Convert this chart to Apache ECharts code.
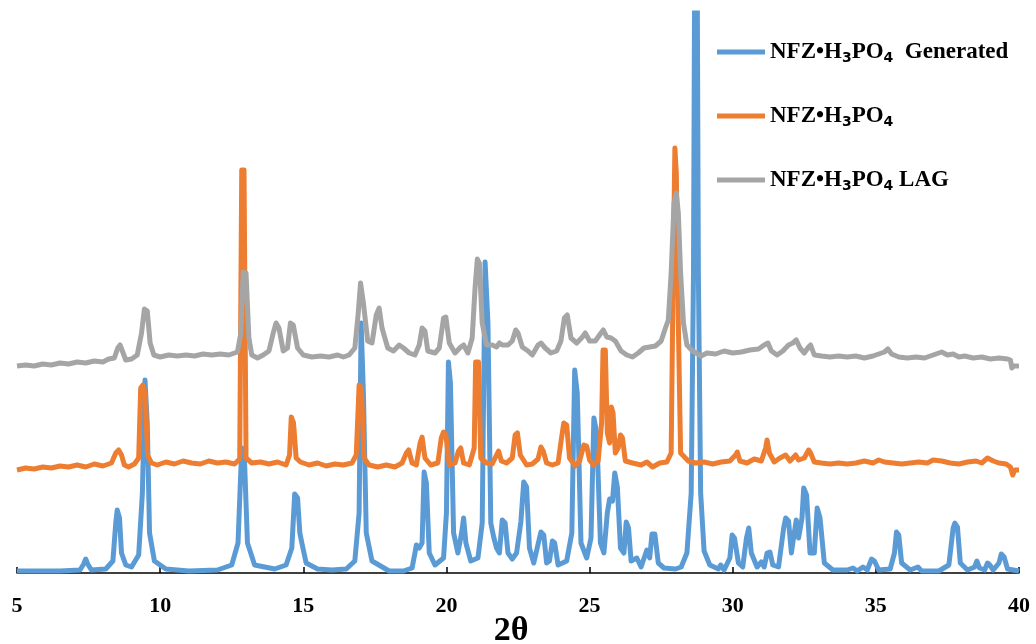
<!DOCTYPE html>
<html>
<head>
<meta charset="utf-8">
<script src="https://cdn.jsdelivr.net/npm/echarts@6/dist/echarts.min.js"></script>
<style>
  html, body { margin: 0; padding: 0; background: #fff; }
  #chart { width: 1036px; height: 644px; }
</style>
</head>
<body>
<div id="chart"></div>
<script>
// PXRD patterns, [2θ, intensity] — traces offset vertically as in the original figure
const seriesNames = ["NFZ•H₃PO₄  Generated", "NFZ•H₃PO₄", "NFZ•H₃PO₄ LAG"];
const xTicks = [5, 10, 15, 20, 25, 30, 35, 40];

const generated = [
  [5.0,2],[6.5,2],[7.2,3],[7.33,9],[7.4,14],[7.47,9],[7.6,3],[8.1,4],[8.35,12],[8.45,50],[8.5,63],[8.58,55],[8.65,20],[8.8,8],
  [9.0,6],[9.25,18],[9.38,80],[9.47,193],[9.55,150],[9.63,40],[9.8,12],[10.2,4],[11.0,2],[12.0,3],[12.5,8],[12.72,30],[12.85,125],
  [12.95,110],[13.05,30],[13.3,8],[14.0,4],[14.4,8],[14.6,25],[14.7,79],[14.8,75],[14.88,40],[14.95,30],[15.1,10],[15.5,4],[16.0,3],
  [16.5,4],[16.8,12],[16.95,60],[17.02,250],[17.1,180],[17.2,40],[17.4,12],[18.0,2],[18.5,2],[18.8,5],[18.9,20],[18.95,28],[19.05,25],
  [19.15,30],[19.22,101],[19.3,90],[19.4,20],[19.6,8],[19.9,15],[20.0,60],[20.07,211],[20.14,190],[20.25,40],[20.4,20],[20.53,40],
  [20.6,55],[20.68,30],[20.85,12],[21.1,15],[21.25,50],[21.35,311],[21.45,250],[21.55,50],[21.65,36],[21.75,25],[21.85,20],[21.95,53],
  [22.05,50],[22.15,20],[22.3,14],[22.45,20],[22.6,51],[22.7,91],[22.8,86],[22.9,25],[23.05,10],[23.3,41],[23.4,38],[23.5,10],[23.6,12],
  [23.7,32],[23.78,30],[23.9,8],[24.2,12],[24.38,40],[24.48,203],[24.57,180],[24.7,30],[24.9,15],[25.05,35],[25.15,155],[25.25,140],
  [25.38,30],[25.5,20],[25.62,60],[25.7,74],[25.8,72],[25.88,100],[25.97,86],[26.08,25],[26.2,20],[26.28,51],[26.36,45],[26.45,12],
  [26.65,15],[26.8,6],[27.0,23],[27.1,15],[27.18,39],[27.28,39],[27.4,10],[27.6,5],[28.0,4],[28.2,6],[28.4,20],[28.55,80],[28.63,300],
  [28.67,600],[28.76,600],[28.8,300],[28.88,80],[29.0,22],[29.2,8],[29.5,4],[29.58,8],[29.7,3],[29.9,15],[29.98,38],[30.06,35],[30.2,10],
  [30.35,6],[30.48,35],[30.56,45],[30.65,20],[30.85,6],[31.0,11],[31.1,6],[31.2,20],[31.3,21],[31.4,8],[31.6,6],[31.78,45],[31.85,55],
  [31.95,52],[32.05,20],[32.15,40],[32.22,53],[32.3,35],[32.42,55],[32.48,85],[32.58,78],[32.7,20],[32.85,20],[32.95,65],[33.05,55],
  [33.2,10],[33.5,3],[34.0,3],[34.2,5],[34.35,2],[34.55,6],[34.7,3],[34.85,14],[34.95,12],[35.1,3],[35.5,4],[35.65,20],[35.72,41],
  [35.8,38],[35.9,10],[36.2,3],[36.47,6],[36.6,2],[37.2,2],[37.55,8],[37.7,45],[37.76,50],[37.85,46],[37.95,10],[38.2,3],[38.45,6],
  [38.53,12],[38.62,5],[38.8,3],[38.9,10],[38.98,8],[39.1,3],[39.3,10],[39.38,19],[39.48,16],[39.6,4],[40.0,2]
];

const experimental = [
  [5.0,103],[5.3,105],[5.6,104],[5.9,106],[6.2,105],[6.5,107],[6.8,106],[7.1,108],[7.4,106],[7.7,109],[8.0,107],[8.3,110],[8.45,120],
  [8.55,123],[8.65,118],[8.75,108],[8.9,106],[9.1,109],[9.25,115],[9.32,185],[9.4,188],[9.48,180],[9.56,118],[9.7,110],[9.9,108],
  [10.2,111],[10.5,109],[10.8,112],[11.1,110],[11.4,109],[11.7,112],[12.0,110],[12.3,111],[12.6,109],[12.78,114],[12.85,403],[12.93,403],
  [13.0,115],[13.2,110],[13.5,111],[13.8,109],[14.1,111],[14.4,108],[14.52,118],[14.58,156],[14.66,150],[14.75,115],[14.9,111],[15.2,108],
  [15.5,110],[15.8,107],[16.1,109],[16.4,108],[16.7,110],[16.85,118],[16.95,188],[17.03,185],[17.12,115],[17.3,108],[17.6,106],[17.9,108],
  [18.2,106],[18.45,110],[18.6,120],[18.68,123],[18.8,110],[18.95,108],[19.08,130],[19.15,136],[19.25,115],[19.45,108],[19.7,110],
  [19.82,135],[19.9,141],[19.98,138],[20.1,108],[20.3,110],[20.42,122],[20.5,125],[20.6,110],[20.8,108],[20.97,125],[21.02,211],
  [21.12,211],[21.2,115],[21.4,110],[21.6,109],[21.75,118],[21.82,122],[21.92,112],[22.1,110],[22.3,115],[22.4,138],[22.48,140],
  [22.58,118],[22.8,108],[23.0,109],[23.2,114],[23.3,126],[23.38,122],[23.5,110],[23.7,108],[23.9,110],[24.02,135],[24.1,150],[24.2,148],
  [24.3,115],[24.5,107],[24.65,112],[24.8,128],[24.9,127],[25.0,113],[25.15,108],[25.3,112],[25.42,150],[25.47,223],[25.55,223],
  [25.62,140],[25.7,130],[25.76,166],[25.82,160],[25.9,120],[26.0,125],[26.08,138],[26.15,135],[26.25,112],[26.5,110],[26.8,108],
  [27.0,111],[27.2,106],[27.45,110],[27.7,111],[27.85,120],[27.92,300],[27.98,425],[28.03,400],[28.1,250],[28.18,120],[28.45,112],
  [28.7,110],[29.0,111],[29.3,109],[29.6,111],[29.9,112],[30.1,118],[30.16,121],[30.25,112],[30.5,110],[30.75,114],[31.0,112],[31.15,125],
  [31.2,133],[31.28,120],[31.45,111],[31.65,115],[31.85,118],[32.0,112],[32.2,118],[32.3,113],[32.5,115],[32.65,123],[32.72,120],
  [32.85,111],[33.1,110],[33.4,109],[33.7,110],[34.0,109],[34.3,110],[34.6,112],[34.9,110],[35.1,113],[35.3,111],[35.6,110],[35.9,109],
  [36.2,110],[36.5,111],[36.8,110],[37.0,113],[37.3,112],[37.6,110],[37.9,109],[38.2,111],[38.5,112],[38.7,110],[38.9,115],[39.1,112],
  [39.3,110],[39.55,109],[39.7,106],[39.78,98],[39.85,103],[40.0,103]
];

const lag = [
  [5.0,207],[5.3,208],[5.6,207],[5.9,209],[6.2,208],[6.5,210],[6.8,209],[7.1,211],[7.4,210],[7.7,212],[8.0,211],[8.2,214],[8.4,215],
  [8.52,225],[8.6,228],[8.68,222],[8.8,213],[9.0,214],[9.2,218],[9.35,240],[9.45,264],[9.55,262],[9.65,230],[9.78,218],[10.0,216],
  [10.3,218],[10.6,217],[10.9,218],[11.2,217],[11.5,219],[11.8,218],[12.1,219],[12.4,218],[12.7,221],[12.82,240],[12.9,301],[13.0,300],
  [13.1,235],[13.2,218],[13.4,215],[13.6,218],[13.8,222],[13.95,240],[14.05,250],[14.15,245],[14.3,222],[14.45,225],[14.55,250],
  [14.65,248],[14.8,225],[15.0,218],[15.3,216],[15.6,217],[15.9,216],[16.2,218],[16.4,216],[16.6,218],[16.8,225],[16.92,260],[17.0,290],
  [17.1,270],[17.25,232],[17.4,230],[17.55,258],[17.65,265],[17.75,245],[17.95,225],[18.15,222],[18.35,228],[18.5,225],[18.7,220],
  [18.9,218],[19.05,228],[19.15,245],[19.25,242],[19.35,222],[19.6,220],[19.75,225],[19.9,255],[19.98,256],[20.1,230],[20.3,220],
  [20.5,226],[20.6,228],[20.75,220],[20.9,235],[21.0,285],[21.08,314],[21.15,310],[21.25,250],[21.4,228],[21.6,228],[21.75,226],
  [21.85,230],[21.95,228],[22.15,228],[22.3,232],[22.42,243],[22.5,240],[22.65,226],[22.85,222],[23.0,218],[23.2,228],[23.3,230],
  [23.45,225],[23.65,220],[23.85,222],[24.0,232],[24.12,255],[24.22,258],[24.35,235],[24.55,230],[24.75,236],[24.85,240],[25.0,232],
  [25.2,232],[25.4,240],[25.48,243],[25.6,236],[25.75,235],[25.9,232],[26.1,222],[26.3,218],[26.5,216],[26.7,220],[26.9,225],[27.1,226],
  [27.3,227],[27.5,232],[27.65,245],[27.75,253],[27.85,300],[27.95,370],[28.03,380],[28.1,360],[28.18,300],[28.28,250],[28.4,228],
  [28.6,222],[28.9,217],[29.1,220],[29.4,219],[29.7,222],[30.0,220],[30.3,221],[30.6,223],[30.9,224],[31.1,228],[31.23,230],[31.35,222],
  [31.55,218],[31.75,222],[31.95,228],[32.1,230],[32.22,233],[32.35,225],[32.5,220],[32.65,226],[32.72,228],[32.85,218],[33.1,217],
  [33.4,216],[33.7,217],[34.0,216],[34.3,217],[34.6,215],[34.9,217],[35.1,219],[35.3,221],[35.42,224],[35.55,219],[35.8,216],[36.1,215],
  [36.4,216],[36.7,215],[36.9,217],[37.1,219],[37.3,221],[37.5,218],[37.7,219],[37.9,216],[38.1,217],[38.4,215],[38.7,216],[39.0,214],
  [39.3,215],[39.6,214],[39.7,213],[39.75,205],[39.82,207],[40.0,207]
];

const colors = ["#5B9BD5", "#ED7D31", "#A5A5A5"];
const serif = "'Times New Roman', 'Liberation Serif', serif";

const chart = echarts.init(document.getElementById("chart"));

const makeSeries = (name, data, color, width) => ({
  name: name,
  type: "line",
  data: data,
  showSymbol: false,
  symbol: "none",
  smooth: false,
  color: color,
  lineStyle: { color: color, width: width, join: "round" },
  emphasis: { disabled: true },
});

// subscript digits drawn as rich-text tokens so they are bigger and bolder
const legendLabel = (name) => name.replace(/₃/g, "{s|3}").replace(/₄/g, "{s|4}");

chart.setOption({
  animation: false,
  color: colors,
  grid: { left: 17, right: 17, top: 13, bottom: 71, outerBoundsMode: "none" },
  legend: {
    orient: "vertical",
    left: 712,
    top: 34,
    icon: "rect",
    itemWidth: 48,
    itemHeight: 5,
    itemGap: 38,
    formatter: legendLabel,
    textStyle: {
      fontFamily: serif,
      fontWeight: "bold",
      fontSize: 23,
      lineHeight: 26,
      color: "#000",
      rich: {
        s: {
          fontFamily: "'DejaVu Sans', sans-serif",
          fontWeight: "bold",
          fontSize: 14,
          lineHeight: 16,
          verticalAlign: "bottom",
          color: "#000",
        },
      },
    },
    data: seriesNames,
  },
  xAxis: {
    type: "value",
    min: 5,
    max: 40,
    interval: 5,
    name: "2θ",
    nameLocation: "middle",
    nameGap: 41,
    nameMoveOverlap: false,
    nameTextStyle: {
      fontFamily: serif,
      fontWeight: "bold",
      fontSize: 34,
      color: "#000",
      padding: [0, 14, 0, 0],
    },
    axisLine: { lineStyle: { color: "#000", width: 1.5 } },
    axisTick: { inside: true, length: 6, lineStyle: { color: "#000", width: 1.5 } },
    axisLabel: {
      margin: 22,
      fontFamily: serif,
      fontWeight: "bold",
      fontSize: 22,
      color: "#000",
      formatter: (v) => (xTicks.includes(v) ? String(v) : ""),
    },
    splitLine: { show: false },
  },
  yAxis: {
    type: "value",
    min: 0,
    max: 560,
    show: false,
  },
  series: [
    makeSeries(seriesNames[0], generated, colors[0], 5),
    makeSeries(seriesNames[1], experimental, colors[1], 5),
    makeSeries(seriesNames[2], lag, colors[2], 5),
  ],
});
</script>
</body>
</html>
